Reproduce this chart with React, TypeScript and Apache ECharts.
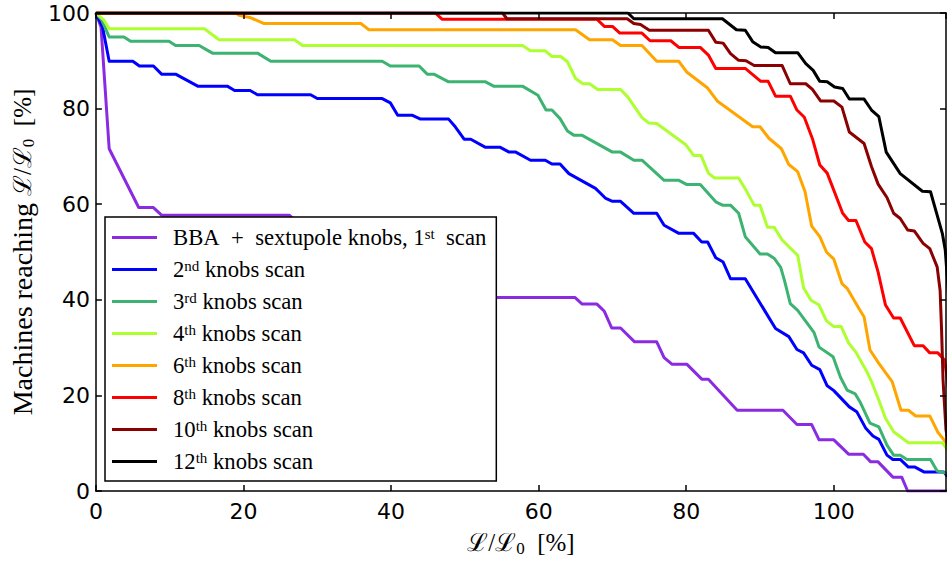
import React, { useEffect, useRef } from "react";
import * as echarts from "echarts";

// ---- data (x = L/L0 [%], y = machines reaching [%]) ----
const seriesNames = [
  "BBA + sextupole knobs, 1st scan",
  "2nd knobs scan",
  "3rd knobs scan",
  "4th knobs scan",
  "6th knobs scan",
  "8th knobs scan",
  "10th knobs scan",
  "12th knobs scan",
];
const scanNumbers = ["1", "2", "3", "4", "6", "8", "10", "12"];
const scanSuffixes = ["st", "nd", "rd", "th", "th", "th", "th", "th"];
const seriesColors = ["#8A2BE2", "#0000FF", "#3CB371", "#ADFF2F", "#FFA500", "#FF0000", "#8B0000", "#000000"];

const xTicks = [0, 20, 40, 60, 80, 100];
const yTicks = [0, 20, 40, 60, 80, 100];

const scan1 = [
  [0, 100], [0.7, 97], [1.8, 71.6], [5.8, 59.3], [7.8, 59.3], [8.9, 57.7], [26.2, 57.7], [27.5, 56],
  [30, 53], [33, 50], [36, 47], [40, 44.5], [44, 42], [48, 40.5], [64.9, 40.5], [65.9, 39.1],
  [67.9, 39.1], [68.9, 37.6], [69.9, 34.1], [71.1, 34.1], [73.0, 31.2], [76.0, 31.2], [77.0, 27.9],
  [78.1, 26.5], [80.1, 26.5], [82.1, 23.4], [83.0, 23.4], [86.9, 16.9], [93.1, 16.9], [95.0, 13.9],
  [97.0, 13.9], [98.0, 10.7], [100.0, 10.7], [102.0, 7.7], [104.0, 7.7], [105.0, 6.1], [106.0, 6.1],
  [108.0, 2.9], [109.2, 2.9], [110.0, 0], [116, 0],
];
const scan2 = [
  [0, 100], [0.9, 97.1], [1.8, 89.9], [5.0, 89.9], [5.9, 88.9], [7.8, 88.9], [8.9, 87.2], [10.8, 87.2],
  [13.8, 84.7], [17.8, 84.7], [18.8, 83.8], [20.9, 83.8], [21.9, 82.9], [29.1, 82.9], [30.0, 82.1],
  [38.8, 82.1], [39.9, 81.2], [40.9, 78.6], [42.9, 78.6], [44.0, 77.8], [47.8, 77.8], [48.7, 76.2],
  [49.9, 73.6], [50.8, 73.6], [52.8, 71.9], [54.8, 71.9], [56.0, 70.9], [56.9, 70.9], [58.9, 69.2],
  [60.9, 69.2], [61.8, 68.4], [62.9, 68.4], [64.1, 66.4], [67.7, 63.3], [69.1, 61.2], [70.0, 60.6],
  [71.1, 60.6], [72.9, 58.1], [76.0, 58.1], [77.0, 55.6], [79.0, 53.9], [81.0, 53.9], [82.1, 52.1],
  [82.9, 52.1], [84.0, 48.8], [85.0, 47.9], [86.0, 44.4], [88.0, 44.4], [92.1, 34.0], [93.9, 32.3],
  [95.0, 29.6], [95.9, 28.9], [97.0, 26.3], [98.1, 25.4], [99.1, 22.0], [100.0, 21.0], [102.1, 17.6],
  [103.1, 16.6], [104.3, 13.2], [105.3, 11.5], [106.1, 10.8], [107.2, 7.5], [108.0, 6.6], [109.0, 6.6],
  [110.1, 5.0], [111.0, 5.0], [112.2, 4.0], [114.9, 4.0], [115.4, 3.0],
];
const scan3 = [
  [0, 100], [0.8, 98.5], [1.8, 95.0], [3.8, 95.0], [4.7, 94.1], [9.9, 94.1], [10.8, 93.2], [14.0, 93.2],
  [14.9, 92.4], [15.8, 91.6], [21.9, 91.6], [23.7, 89.9], [38.8, 89.9], [39.9, 88.9], [43.8, 88.9],
  [44.9, 87.2], [45.8, 87.2], [47.8, 85.6], [52.8, 85.6], [53.9, 84.7], [57.8, 84.7], [59.9, 82.8],
  [61.0, 79.7], [61.8, 79.7], [62.9, 77.9], [63.9, 75.3], [64.8, 74.4], [65.9, 74.4], [70.0, 70.9],
  [71.1, 70.9], [72.9, 69.2], [74.0, 69.2], [77.0, 65.0], [79.0, 65.0], [80.1, 64.1], [81.9, 64.1],
  [84.0, 60.5], [84.9, 59.8], [86.0, 59.8], [87.1, 58.1], [88.0, 53.2], [90.0, 49.6], [91.0, 49.6],
  [91.9, 48.7], [92.8, 46.8], [93.3, 44.1], [94.1, 39.2], [95.1, 37.8], [97.3, 33.2], [98.0, 30.1],
  [99.9, 28.1], [100.9, 23.8], [101.8, 21.1], [102.9, 20.3], [103.6, 18.5], [104.9, 14.2], [106.1, 13.4],
  [107.2, 9.6], [108.1, 7.5], [109.0, 7.5], [109.9, 6.6], [113.1, 6.6], [114.0, 4.2], [115.4, 3.7],
];
const scan4 = [
  [0, 100], [1.1, 98.5], [1.8, 96.7], [14.7, 96.7], [16.7, 94.4], [26.9, 94.4], [28.0, 93.2], [57.8, 93.2],
  [58.9, 92.1], [60.9, 92.1], [61.8, 90.9], [63.0, 90.9], [63.9, 89.8], [65.0, 86.3], [66.0, 85.2],
  [66.9, 85.2], [68.0, 84.0], [71.1, 84.0], [72.1, 82.4], [74.0, 78.1], [74.9, 77.0], [76.0, 76.9],
  [79.9, 72.5], [81.0, 70.2], [82.0, 70.2], [83.0, 66.5], [83.8, 65.5], [87.1, 65.5], [88.0, 63.2],
  [89.2, 59.8], [90.0, 59.8], [91.0, 55.2], [91.9, 55.2], [93.0, 52.5], [95.1, 49.3], [95.9, 42.5],
  [96.9, 39.9], [98.0, 38.9], [99.0, 35.6], [100.0, 34.4], [101.0, 34.4], [102.0, 31.0], [103.0, 29.0],
  [104.5, 24.9], [105.1, 22.9], [106.1, 19.0], [107.0, 15.2], [108.1, 12.4], [110.1, 10.1], [114.7, 10.1],
  [115.4, 8.6],
];
const scan6 = [
  [0, 100], [19.0, 100], [19.4, 99.5], [21.0, 99.0], [22.8, 97.8], [35.9, 97.8], [37.0, 96.5], [65.0, 96.5],
  [66.9, 94.4], [70.0, 94.4], [71.1, 93.2], [74.0, 93.2], [76.0, 89.9], [79.0, 89.9], [80.1, 87.6],
  [82.9, 84.3], [84.2, 81.6], [89.0, 76.2], [90.0, 76.2], [91.2, 73.8], [92.9, 71.6], [93.9, 68.3],
  [95.1, 66.8], [96.1, 62.6], [97.0, 55.4], [98.1, 53.2], [99.0, 50.0], [100.0, 48.5], [101.1, 43.4],
  [101.8, 42.4], [103.4, 38.2], [104.1, 36.4], [104.9, 29.5], [106.1, 26.7], [107.9, 22.9], [109.1, 16.9],
  [110.1, 16.9], [111.1, 15.7], [113.0, 15.7], [114.1, 12.3], [115.3, 10.0], [116, 8.5],
];
const scan8 = [
  [0, 100], [46.0, 100], [46.9, 98.7], [67.9, 98.7], [68.9, 97.2], [70.0, 97.2], [71.0, 95.8], [74.0, 95.8],
  [75.1, 94.2], [77.9, 94.2], [79.0, 92.8], [81.9, 92.8], [83.0, 91.2], [84.0, 88.4], [88.0, 88.4],
  [90.1, 85.7], [91.1, 85.7], [92.1, 82.6], [94.1, 82.6], [95.0, 79.7], [96.0, 78.2], [97.1, 73.7],
  [98.1, 68.2], [99.1, 66.5], [101.2, 58.1], [102.0, 56.6], [103.0, 56.6], [104.2, 52.1], [105.1, 50.7],
  [106.0, 45.8], [107.0, 38.9], [108.1, 36.2], [109.0, 36.2], [110.9, 30.4], [112.1, 30.4], [113.0, 28.9],
  [114.1, 28.9], [115.0, 27.4], [115.4, 23.2], [116, 15],
];
const scan10 = [
  [0, 100], [55.1, 100], [55.7, 98.8], [72.0, 98.8], [72.9, 97.8], [73.8, 97.6], [75.0, 96.4], [83.0, 96.4],
  [84.0, 93.9], [85.0, 93.7], [86.0, 91.5], [87.1, 90.1], [88.1, 90.0], [89.2, 89.0], [93.0, 89.0],
  [94.1, 85.2], [96.2, 85.2], [97.1, 84.0], [98.2, 81.6], [100.0, 81.6], [101.1, 80.3], [102.1, 75.1],
  [104.1, 72.7], [105.1, 67.9], [106.0, 64.2], [107.2, 61.4], [108.1, 58.1], [109.0, 57.0], [110.0, 54.6],
  [110.9, 54.4], [112.1, 51.8], [113.0, 50.7], [114.0, 46.9], [114.4, 42.0], [114.6, 33.7], [114.8, 23.2],
  [115.2, 12.8], [116, 5],
];
const scan12 = [
  [0, 100], [72.1, 100], [72.9, 98.8], [84.9, 98.8], [86.8, 96.5], [88.0, 96.4], [89.0, 94.0], [90.1, 92.9],
  [91.1, 92.8], [92.1, 91.7], [95.1, 91.7], [96.2, 89.4], [97.2, 88.0], [98.1, 85.7], [99.1, 85.6],
  [100.1, 84.5], [101.2, 84.2], [102.1, 82.0], [104.1, 82.0], [105.1, 79.7], [106.1, 78.3], [107.1, 70.9],
  [109.0, 66.4], [112.0, 62.7], [113.1, 62.6], [114.0, 57.7], [114.7, 53.9], [115.1, 50.4], [115.4, 44.1],
  [116, 30],
];
const seriesData = [scan1, scan2, scan3, scan4, scan6, scan8, scan10, scan12];

const X_MAX = 115.2;
const SERIF = "'Liberation Serif', 'DejaVu Serif', serif";
const SANS = "'DejaVu Sans', sans-serif";
const NB = "\u00a0";

export default function App() {
  const ref = useRef<HTMLDivElement>(null);
  useEffect(() => {
    if (!ref.current) return;
    const chart = echarts.init(ref.current, undefined, { renderer: "svg" });
    const axisLine = { show: true, onZero: false, lineStyle: { color: "#000", width: 1.5 } };
    const tick = { show: true, inside: true, length: 6, lineStyle: { color: "#000", width: 1.5 } };
    const labelStyle = { fontFamily: SANS, fontSize: 22, color: "#000" };
    const nameRich = {
      m: { fontFamily: SERIF, fontSize: 28, color: "#000", lineHeight: 30 },
      t: { fontFamily: SERIF, fontSize: 25, color: "#000", lineHeight: 30 },
      sub: { fontFamily: SERIF, fontSize: 17, color: "#000", lineHeight: 17, verticalAlign: "bottom" },
    };
    chart.setOption({
      animation: false,
      backgroundColor: "#fff",
      grid: { left: 95, top: 13, right: 1, bottom: 74, containLabel: false },
      xAxis: [
        {
          type: "value", min: 0, max: X_MAX, interval: 20, position: "bottom", z: 5,
          axisLine, axisTick: tick, splitLine: { show: false },
          axisLabel: {
            ...labelStyle, margin: 9, showMaxLabel: false,
            formatter: (v: number) => (xTicks.includes(v) ? String(v) : ""),
          },
          name: `{t|ℒ/ℒ}{sub|0}{t|${NB}${NB}[%]}`,
          nameLocation: "middle", nameGap: 36,
          nameTextStyle: { rich: nameRich },
        },
        {
          type: "value", min: 0, max: X_MAX, interval: 20, position: "top", z: 5,
          axisLine, axisTick: tick, axisLabel: { show: false }, splitLine: { show: false },
        },
      ],
      yAxis: [
        {
          type: "value", min: 0, max: 100, interval: 20, position: "left", z: 5,
          axisLine, axisTick: tick, splitLine: { show: false },
          axisLabel: {
            ...labelStyle, margin: 6,
            formatter: (v: number) => (yTicks.includes(v) ? String(v) : ""),
          },
          name: `{m|Machines reaching${NB}}{t|ℒ/ℒ}{sub|0}{t|${NB}${NB}[%]}`,
          nameLocation: "middle", nameGap: 56,
          nameTextStyle: { rich: nameRich },
        },
        {
          type: "value", min: 0, max: 100, interval: 20, position: "right", z: 5,
          axisLine, axisTick: tick, axisLabel: { show: false }, splitLine: { show: false },
        },
      ],
      legend: {
        show: true,
        orient: "vertical",
        left: 105,
        top: 217,
        padding: [9, 10, 8, 7],
        itemGap: 9,
        itemWidth: 45,
        itemHeight: 3,
        icon: "rect",
        backgroundColor: "#fff",
        borderColor: "#000",
        borderWidth: 1.5,
        borderRadius: 0,
        selectedMode: false,
        data: seriesNames,
        textStyle: {
          color: "#000",
          rich: {
            g: { width: 11, fontSize: 22, lineHeight: 22, fontFamily: SERIF },
            t: { fontFamily: SERIF, fontSize: 22.7, lineHeight: 22, color: "#000" },
            s: { fontFamily: SERIF, fontSize: 15, lineHeight: 15, color: "#000", verticalAlign: "top" },
          },
        },
        formatter: (name: string) => {
          const i = seriesNames.indexOf(name);
          if (i === 0) {
            return `{g|${NB}}{t|BBA${NB}${NB}+${NB}${NB}sextupole knobs, ${scanNumbers[0]}}{s|${scanSuffixes[0]}}{t|${NB}${NB}scan}`;
          }
          return `{g|${NB}}{t|${scanNumbers[i]}}{s|${scanSuffixes[i]}}{t|${NB}knobs scan}`;
        },
      },
      series: seriesNames.map((name, i) => ({
        name,
        type: "line",
        xAxisIndex: 0,
        yAxisIndex: 0,
        data: seriesData[i],
        symbol: "none",
        clip: true,
        color: seriesColors[i],
        lineStyle: { color: seriesColors[i], width: 3, join: "round" },
        z: 2 + i * 0.01,
      })),
    });
    return () => chart.dispose();
  }, []);
  return (
    <div
      ref={ref}
      style={{ position: "fixed", left: 0, top: 0, width: 947, height: 565, background: "#fff" }}
    />
  );
}
